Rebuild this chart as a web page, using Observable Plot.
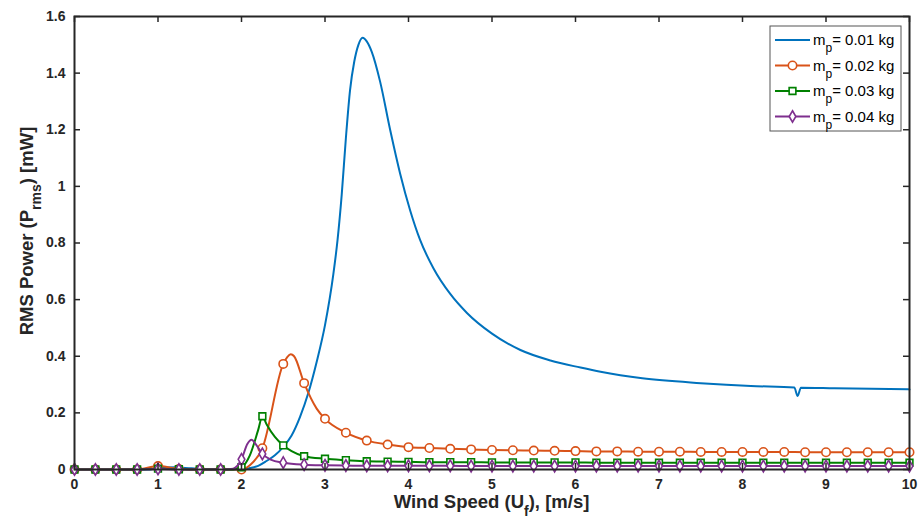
<!DOCTYPE html>
<html><head><meta charset="utf-8">
<script src="https://cdn.jsdelivr.net/npm/d3@7"></script>
<script src="https://cdn.jsdelivr.net/npm/@observablehq/plot@0.6"></script>
<style>
body{margin:0;background:#fff;}
#wrap{position:relative;width:921px;height:528px;}
</style></head><body><div id="wrap"></div>
<script>
// ---- data ----
const xTicks = [0,1,2,3,4,5,6,7,8,9,10];
const yTicks = [0,0.2,0.4,0.6,0.8,1,1.2,1.4,1.6];
const seriesMass = ["0.01","0.02","0.03","0.04"];
const seriesColors = ["#0072BD","#D95319","#008000","#7E2F8E"];
const seriesSymbols = [null,"circle","square","diamond"];

// m_p = 0.01 kg (line only)
const blueX = [0,0.9,1.0,1.2,1.4,1.6,1.9,2.0,2.1,2.2,2.3,2.4,2.5,2.6,2.7,2.8,2.9,3.0,3.1,3.15,3.2,3.25,3.3,3.35,3.4,3.45,3.5,3.56,3.66,3.78,3.9,4.02,4.14,4.3,4.5,4.7,5.0,5.34,5.7,6.06,6.3,6.8,7.5,8.1,8.62,8.66,8.7,9.1,10];
const blueY = [0,0,0.006,0.008,0.004,0.001,0,0,0.005,0.013,0.03,0.05,0.08,0.12,0.185,0.27,0.38,0.51,0.69,0.81,0.97,1.17,1.34,1.44,1.5,1.525,1.512,1.475,1.37,1.2,1.045,0.915,0.81,0.71,0.62,0.553,0.48,0.422,0.385,0.36,0.345,0.322,0.305,0.295,0.29,0.26,0.289,0.287,0.283];

// m_p = 0.02 kg (markers on multiples of 0.25)
const orangeX = [0,0.25,0.5,0.75,1.0,1.25,1.5,1.75,2.0,2.1,2.25,2.5,2.55,2.59,2.63,2.75,2.9,3.0,3.25,3.5,3.75,4.0,4.25,4.5,4.75,5.0,5.25,5.5,5.75,6.0,6.25,6.5,6.75,7.0,7.25,7.5,7.75,8.0,8.25,8.5,8.75,9.0,9.25,9.5,9.75,10];
const orangeY = [0,0,0,0,0.012,0.002,0,0,0,0.015,0.075,0.373,0.398,0.407,0.4,0.305,0.215,0.179,0.13,0.102,0.088,0.079,0.076,0.073,0.071,0.069,0.068,0.067,0.066,0.065,0.064,0.064,0.063,0.063,0.063,0.062,0.062,0.062,0.062,0.062,0.061,0.061,0.061,0.061,0.061,0.061];

// m_p = 0.03 kg
const greenX = [0,0.25,0.5,0.75,1.0,1.25,1.5,1.75,1.9,2.0,2.1,2.2,2.25,2.3,2.4,2.5,2.6,2.75,3.0,3.25,3.5,3.75,4.0,4.25,4.5,4.75,5.0,5.25,5.5,5.75,6.0,6.25,6.5,6.75,7.0,7.25,7.5,7.75,8.0,8.25,8.5,8.75,9.0,9.25,9.5,9.75,10];
const greenY = [0,0,0,0,0.003,0.001,0,0,0,0.008,0.05,0.14,0.188,0.16,0.115,0.085,0.065,0.047,0.038,0.033,0.029,0.028,0.027,0.026,0.026,0.026,0.025,0.025,0.025,0.025,0.025,0.024,0.024,0.024,0.024,0.024,0.024,0.024,0.024,0.024,0.024,0.024,0.024,0.024,0.024,0.024,0.024];

// m_p = 0.04 kg
const purpleX = [0,0.25,0.5,0.75,1.0,1.25,1.5,1.75,1.9,2.0,2.07,2.12,2.17,2.25,2.35,2.5,2.75,3.0,3.25,3.5,3.75,4.0,4.25,4.5,4.75,5.0,5.25,5.5,5.75,6.0,6.25,6.5,6.75,7.0,7.25,7.5,7.75,8.0,8.25,8.5,8.75,9.0,9.25,9.5,9.75,10];
const purpleY = [0,0,0,0,0.002,0,0,0,0.003,0.036,0.09,0.105,0.09,0.055,0.035,0.024,0.017,0.015,0.014,0.013,0.013,0.013,0.013,0.013,0.012,0.012,0.012,0.012,0.012,0.012,0.012,0.012,0.012,0.012,0.012,0.012,0.012,0.012,0.012,0.012,0.012,0.012,0.012,0.012,0.012,0.012];

// ---- build ----
const toRows = (xs, ys) => xs.map((x, i) => ({x, y: ys[i]}));
const seriesData = [toRows(blueX, blueY), toRows(orangeX, orangeY), toRows(greenX, greenY), toRows(purpleX, purpleY)];
const onGrid = d => Number.isInteger(Math.round(d.x * 1000) / 250);

const W = 921, H = 528, mL = 74, mR = 12, mT = 16, mB = 59;
const innerW = W - mL - mR, innerH = H - mT - mB;
const axisColor = "#262626";
const markerR = [0, 4.2, 3.8, 3.5];
const xDom = [0, 10], yDom = [0, 1.6];
const tickPx = 6;
const tLenX = tickPx * (xDom[1] - xDom[0]) / innerW;   // inward tick length in x units
const tLenY = tickPx * (yDom[1] - yDom[0]) / innerH;   // inward tick length in y units

const marks = [];
seriesData.forEach((rows, i) => {
  marks.push(Plot.line(rows, {x: "x", y: "y", stroke: seriesColors[i], strokeWidth: 2, curve: "monotone-x"}));
  if (seriesSymbols[i]) {
    marks.push(Plot.dot(rows.filter(onGrid), {x: "x", y: "y", symbol: seriesSymbols[i], r: markerR[i], stroke: seriesColors[i], fill: "white", strokeWidth: 1.6}));
  }
});

const chart = Plot.plot({
  width: W, height: H,
  marginLeft: mL, marginRight: mR, marginTop: mT, marginBottom: mB,
  style: {fontFamily: "'Liberation Sans', Arial, Helvetica, sans-serif", fontSize: "14px", fontWeight: "bold", color: axisColor, background: "white"},
  x: {domain: xDom},
  y: {domain: yDom},
  marks: [
    ...marks,
    Plot.axisX(xTicks, {tickSize: 0, tickPadding: 10, label: null, fontSize: 14, fontWeight: "bold", fill: axisColor}),
    Plot.axisY(yTicks, {tickSize: 0, tickPadding: 9, label: null, fontSize: 14, fontWeight: "bold", fill: axisColor, tickFormat: d => String(d)}),
    Plot.ruleX(xTicks, {x: d => d, y1: yDom[0], y2: yDom[0] + tLenY, stroke: axisColor, strokeWidth: 1.5}),
    Plot.ruleX(xTicks, {x: d => d, y1: yDom[1], y2: yDom[1] - tLenY, stroke: axisColor, strokeWidth: 1.5}),
    Plot.ruleY(yTicks, {y: d => d, x1: xDom[0], x2: xDom[0] + tLenX, stroke: axisColor, strokeWidth: 1.5}),
    Plot.ruleY(yTicks, {y: d => d, x1: xDom[1], x2: xDom[1] - tLenX, stroke: axisColor, strokeWidth: 1.5}),
    Plot.frame({stroke: axisColor, strokeWidth: 2})
  ]
});
document.getElementById("wrap").appendChild(chart);

// ---- axis titles with subscripts ----
const svg = d3.select(chart);
const font = "'Liberation Sans', Arial, Helvetica, sans-serif";
const xt = svg.append("text").attr("x", mL + innerW / 2).attr("y", 508).attr("text-anchor", "middle")
  .attr("font-family", font).attr("font-size", 18.5).attr("font-weight", "bold").attr("fill", axisColor);
xt.append("tspan").text("Wind Speed (U");
xt.append("tspan").attr("baseline-shift", "sub").attr("font-size", 14).text("f");
xt.append("tspan").text("), [m/s]");

const yt = svg.append("text").attr("transform", `translate(33,231) rotate(-90)`).attr("text-anchor", "middle")
  .attr("font-family", font).attr("font-size", 18.5).attr("font-weight", "bold").attr("fill", axisColor);
yt.append("tspan").text("RMS Power (P");
yt.append("tspan").attr("baseline-shift", "sub").attr("font-size", 14).text("rms");
yt.append("tspan").text(") [mW]");

// ---- legend ----
const lg = svg.append("g").attr("text-anchor", "start");
const lx = 770, ly = 26, lw = 131, lh = 105, rowH = 25.5;
lg.append("rect").attr("x", lx).attr("y", ly).attr("width", lw).attr("height", lh)
  .attr("fill", "white").attr("stroke", "#555").attr("stroke-width", 1);
const symMap = {circle: d3.symbolCircle, square: d3.symbolSquare, diamond: d3.symbolDiamond};
seriesMass.forEach((m, i) => {
  const cy = ly + 14 + i * rowH;
  lg.append("line").attr("x1", lx + 5).attr("x2", lx + 40).attr("y1", cy).attr("y2", cy)
    .attr("stroke", seriesColors[i]).attr("stroke-width", 2);
  if (seriesSymbols[i]) {
    lg.append("path").attr("d", d3.symbol(symMap[seriesSymbols[i]], Math.PI * markerR[i] * markerR[i])())
      .attr("transform", `translate(${lx + 22.5},${cy})`)
      .attr("fill", "white").attr("stroke", seriesColors[i]).attr("stroke-width", 1.6);
  }
  const t = lg.append("text").attr("x", lx + 43).attr("y", cy + 5).attr("text-anchor", "start")
    .attr("font-family", font).attr("font-size", 15).attr("font-weight", "normal").attr("fill", "#000");
  t.append("tspan").text("m");
  t.append("tspan").attr("baseline-shift", "sub").attr("font-size", 12).text("p");
  t.append("tspan").text("= " + m + " kg");
});
</script>
</body></html>
